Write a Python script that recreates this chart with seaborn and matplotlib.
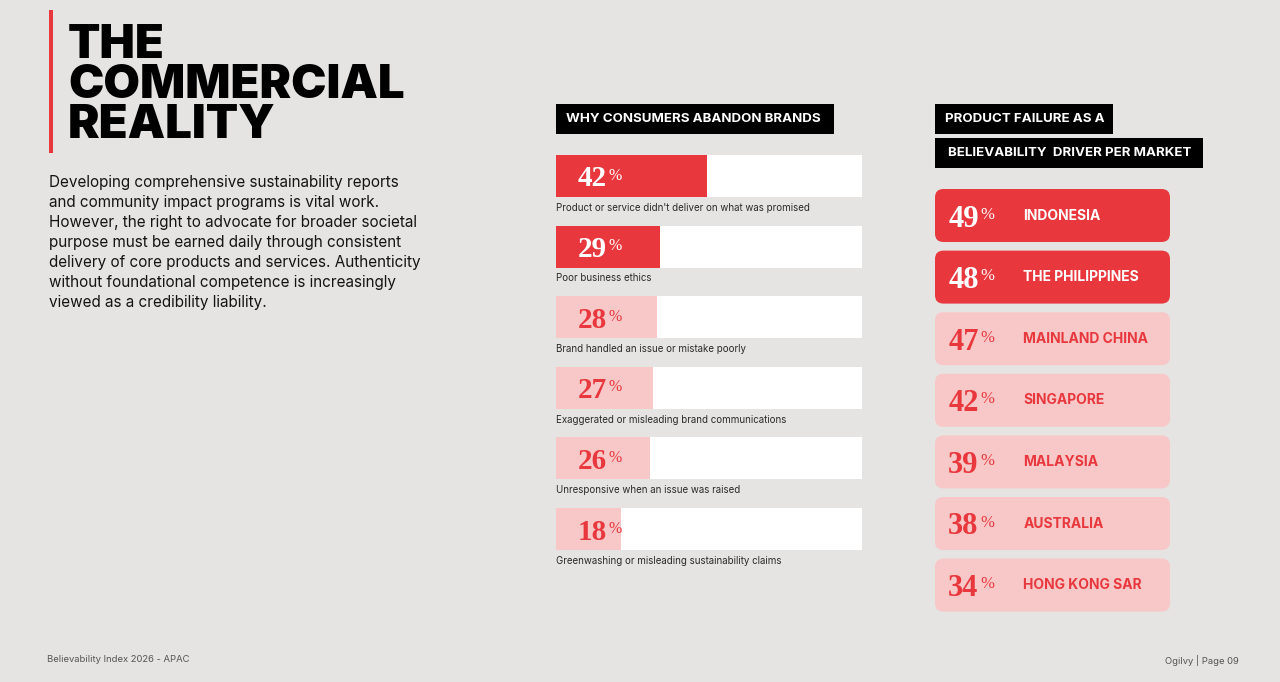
import numpy as np
import pandas as pd
import matplotlib.pyplot as plt
import seaborn as sns
from matplotlib.patches import FancyBboxPatch, Rectangle

# data
reasons = [
    "Product or service didn't deliver on what was promised",
    "Poor business ethics",
    "Brand handled an issue or mistake poorly",
    "Exaggerated or misleading brand communications",
    "Unresponsive when an issue was raised",
    "Greenwashing or misleading sustainability claims",
]
reason_pct = [42, 29, 28, 27, 26, 18]

markets = ["INDONESIA", "THE PHILIPPINES", "MAINLAND CHINA", "SINGAPORE",
           "MALAYSIA", "AUSTRALIA", "HONG KONG SAR"]
market_pct = [49, 48, 47, 42, 39, 38, 34]

body_lines = [
    "Developing comprehensive sustainability reports",
    "and community impact programs is vital work.",
    "However, the right to advocate for broader societal",
    "purpose must be earned daily through consistent",
    "delivery of core products and services. Authenticity",
    "without foundational competence is increasingly",
    "viewed as a credibility liability.",
]

RED = "#e8373d"
PINK = "#f8c7c7"
BG = "#e5e4e2"
SERIF = ["Liberation Serif", "DejaVu Serif"]

sns.set_theme(style="white")
plt.rcParams["font.family"] = ["Inter", "DejaVu Sans"]

W, H = 1280, 682
fig = plt.figure(figsize=(W / 100, H / 100), dpi=100)
fig.patch.set_facecolor(BG)


def px(x, y, w, h):
    # pixel box (top-left origin) -> figure fraction
    return [x / W, 1 - (y + h) / H, w / W, h / H]


def fx(x):
    return x / W


def fy(y):
    return 1 - y / H


# ---- left text block
fig.add_artist(Rectangle((fx(49), fy(153)), 4 / W, 143 / H, color=RED,
                         lw=0, transform=fig.transFigure))
for line, base in zip(["THE", "COMMERCIAL", "REALITY"], [58, 98, 138]):
    fig.text(fx(68), fy(base), line, fontsize=34, fontweight="black",
             color="black", va="baseline", ha="left")
for k, line in enumerate(body_lines):
    fig.text(fx(49), fy(187 + 20 * k), line, fontsize=11.0, color="#151515",
             va="baseline", ha="left")

# ---- header boxes
def header(x0, y0, x1, y1, txt, tx):
    fig.add_artist(Rectangle((fx(x0), fy(y1)), (x1 - x0) / W, (y1 - y0) / H,
                             color="black", lw=0, transform=fig.transFigure))
    fig.text(fx(tx), fy((y0 + y1) / 2), txt, color="white", fontsize=9.6,
             fontweight="bold", va="center", ha="left")


header(556, 104, 834, 134, "WHY CONSUMERS ABANDON BRANDS", 566)
header(935, 104, 1113, 134, "PRODUCT FAILURE AS A", 945)
header(935, 138, 1203, 168, "BELIEVABILITY  DRIVER PER MARKET", 948)


def pct_label(axis, value, i, dx, size, col):
    t = axis.annotate(f"{value}", xy=(0, i), xytext=(dx, 0),
                      textcoords="offset points", fontsize=size,
                      fontweight="bold", family=SERIF, color=col,
                      va="center_baseline", ha="left")
    axis.annotate("%", xy=(1, 1), xycoords=t, xytext=(1.0, -1.5),
                  textcoords="offset points", fontsize=size * 0.55,
                  family=SERIF, color=col, va="top", ha="left")


# ---- why consumers abandon brands (horizontal bars)
df = pd.DataFrame({"reason": reasons, "pct": reason_pct})
df["tier"] = np.where(df["pct"].rank(ascending=False) <= 2, "top", "rest")

ax = fig.add_axes(px(556, 133.6, 306, 441.3))
ax.set_facecolor(BG)
xmax = 85
bar_h = 0.595
ax.barh(range(len(reasons)), xmax, height=bar_h, color="white", lw=0,
        zorder=0)
sns.barplot(data=df, x="pct", y="reason", hue="tier",
            palette={"top": RED, "rest": PINK}, dodge=False, width=bar_h,
            saturation=1, legend=False, ax=ax, zorder=1, linewidth=0)
ax.set_xlim(0, xmax)
ax.set_ylim(5.65, -0.6)
ax.axis("off")

for i, row in df.iterrows():
    col = "white" if row["tier"] == "top" else RED
    pct_label(ax, row["pct"], i, 15.5, 21, col)
    ax.text(0, i + 0.45, row["reason"], fontsize=7, color="#2a2a2a",
            va="center", ha="left")

# ---- product failure per market (rounded cards)
mk = pd.DataFrame({"market": markets, "pct": market_pct})
mk["tier"] = np.where(mk["pct"].rank(ascending=False) <= 2, "top", "rest")

ax2 = fig.add_axes(px(935, 184.7, 235, 431.2))
ax2.set_xlim(0, 1)
ax2.set_ylim(len(markets) - 0.5, -0.5)
ax2.axis("off")
card_h = 0.86
for i, row in mk.iterrows():
    top = row["tier"] == "top"
    ax2.add_patch(FancyBboxPatch((0, i - card_h / 2), 1, card_h,
                                 boxstyle="round,pad=0,rounding_size=0.036",
                                 mutation_aspect=3.8,
                                 facecolor=RED if top else PINK,
                                 edgecolor="none"))
    col = "white" if top else RED
    pct_label(ax2, row["pct"], i, 9.5, 22, col)
    ax2.annotate(row["market"], xy=(0, i), xytext=(63.5, 0),
                 textcoords="offset points", fontsize=10, fontweight="bold",
                 color=col, va="center", ha="left")

# ---- footer
fig.text(fx(47), fy(660), "Believability Index 2026 - APAC", fontsize=6.8,
         color="#555555", va="center", ha="left")
fig.text(fx(1239), fy(660), "Ogilvy | Page 09", fontsize=6.8,
         color="#555555", va="center", ha="right")

fig.savefig("out.png", dpi=100, facecolor=BG)
